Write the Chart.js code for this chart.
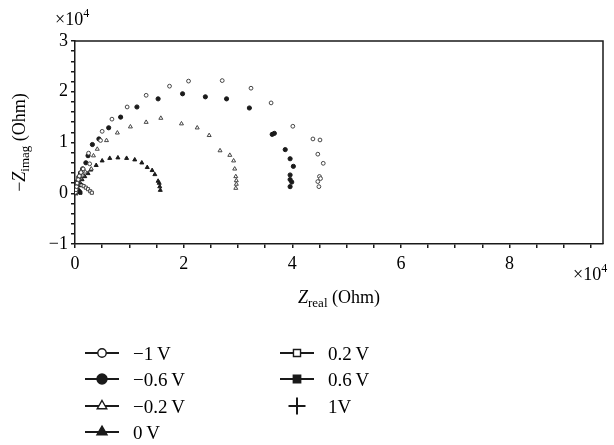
<!DOCTYPE html>
<html lang="en">
  <head>
    <meta charset="UTF-8" />
    <title>Nyquist plot</title>
    <style>
      html, body { margin: 0; padding: 0; background: #fff; }
      .wrap { width: 614px; height: 445px; position: relative; }
    </style>
  </head>
  <body>
    <div class="wrap">
      <canvas id="nyquist"></canvas>
    </div>

    <script src="https://cdn.jsdelivr.net/npm/chart.js"></script>
    <script>
      // Impedance values in units of 1e4 Ohm
      const biasLabels = ["\u22121\u2009V", "\u22120.6\u2009V", "\u22120.2\u2009V", "0\u2009V", "0.2\u2009V", "0.6\u2009V", "1V"];

      const zReal_m1 = [0.01, 0.02, 0.03, 0.04, 0.06, 0.08, 0.11, 0.15, 0.27, 0.25, 0.47, 0.50, 0.68, 0.96, 1.31, 1.74, 2.09, 2.71, 3.24, 3.61, 4.01, 4.38, 4.51, 4.47, 4.57, 4.50, 4.52, 4.47, 4.49];
      const zImag_m1 = [0.02, 0.07, 0.13, 0.20, 0.27, 0.34, 0.41, 0.48, 0.58, 0.79, 1.04, 1.22, 1.46, 1.70, 1.93, 2.11, 2.21, 2.22, 2.07, 1.78, 1.32, 1.07, 1.05, 0.77, 0.59, 0.33, 0.29, 0.23, 0.13];

      const zReal_m06 = [0.01, 0.02, 0.03, 0.05, 0.07, 0.10, 0.14, 0.20, 0.24, 0.32, 0.44, 0.62, 0.84, 1.14, 1.53, 1.98, 2.40, 2.79, 3.21, 3.63, 3.67, 3.87, 3.96, 4.02, 3.96, 3.96, 3.99, 3.96];
      const zImag_m06 = [0.03, 0.09, 0.16, 0.24, 0.32, 0.40, 0.48, 0.60, 0.74, 0.96, 1.07, 1.29, 1.50, 1.70, 1.86, 1.96, 1.90, 1.86, 1.68, 1.16, 1.18, 0.86, 0.68, 0.53, 0.36, 0.27, 0.22, 0.13];

      const zReal_m02 = [0.01, 0.02, 0.03, 0.05, 0.07, 0.10, 0.14, 0.19, 0.30, 0.34, 0.41, 0.58, 0.78, 1.02, 1.31, 1.58, 1.96, 2.25, 2.47, 2.67, 2.85, 2.92, 2.94, 2.96, 2.97, 2.97, 2.96];
      const zImag_m02 = [0.02, 0.06, 0.11, 0.17, 0.23, 0.30, 0.36, 0.42, 0.48, 0.74, 0.87, 1.04, 1.19, 1.31, 1.40, 1.48, 1.37, 1.29, 1.14, 0.84, 0.75, 0.64, 0.48, 0.33, 0.25, 0.18, 0.10];

      const zReal_0 = [0.01, 0.02, 0.04, 0.06, 0.09, 0.13, 0.18, 0.24, 0.29, 0.39, 0.50, 0.64, 0.79, 0.95, 1.10, 1.23, 1.33, 1.42, 1.47, 1.53, 1.55, 1.56, 1.57];
      const zImag_0 = [0.02, 0.06, 0.10, 0.15, 0.21, 0.27, 0.33, 0.39, 0.46, 0.55, 0.64, 0.69, 0.70, 0.69, 0.66, 0.60, 0.51, 0.45, 0.37, 0.24, 0.20, 0.13, 0.06];

      const zReal_p02 = [0.005, 0.01, 0.02, 0.04, 0.06, 0.09, 0.12, 0.16, 0.20, 0.24, 0.28, 0.31];
      const zImag_p02 = [0.02, 0.06, 0.10, 0.14, 0.16, 0.17, 0.16, 0.14, 0.11, 0.08, 0.04, 0.01];

      const zReal_p06 = [0.003, 0.008, 0.015, 0.025, 0.04, 0.055, 0.07, 0.085, 0.10];
      const zImag_p06 = [0.01, 0.03, 0.05, 0.06, 0.065, 0.06, 0.045, 0.03, 0.01];

      const zReal_p1 = [0.002, 0.005, 0.01, 0.018, 0.026, 0.034, 0.04];
      const zImag_p1 = [0.005, 0.012, 0.018, 0.02, 0.017, 0.01, 0.004];

      const xTickLabels = [0, 2, 4, 6, 8];
      const yTickLabels = [-1, 0, 1, 2, 3];

      const SERIF = '"Liberation Serif", "DejaVu Serif", serif';
      const INK = "#1a1a1a";

      function pairs(xs, ys) {
        return xs.map((x, i) => ({ x: x, y: ys[i] }));
      }

      // marker look per bias: style, open/filled, size in plot, size in legend, legend line
      const markers = [
        { style: "circle", open: true, r: 1.9, lr: 4.2, line: true },
        { style: "circle", open: false, r: 2.1, lr: 5, line: true },
        { style: "triangle", open: true, r: 2.3, lr: 5.5, line: true },
        { style: "triangle", open: false, r: 2.3, lr: 5.8, line: true },
        { style: "rect", open: true, r: 2.2, lr: 5, line: true },
        { style: "rect", open: false, r: 2.2, lr: 5.2, line: true },
        { style: "cross", open: false, r: 2.5, lr: 8.5, line: false },
      ];

      const series = [
        pairs(zReal_m1, zImag_m1),
        pairs(zReal_m06, zImag_m06),
        pairs(zReal_m02, zImag_m02),
        pairs(zReal_0, zImag_0),
        pairs(zReal_p02, zImag_p02),
        pairs(zReal_p06, zImag_p06),
        pairs(zReal_p1, zImag_p1),
      ];

      const datasets = series.map((data, i) => ({
        label: biasLabels[i],
        data: data,
        showLine: false,
        pointStyle: markers[i].style,
        pointRadius: markers[i].r,
        pointBorderWidth: 1,
        pointBackgroundColor: markers[i].open ? "#fff" : INK,
        pointBorderColor: markers[i].open ? "#444" : INK,
      }));

      // draws text pieces with their own font and baseline shift
      function drawRuns(ctx, runs, x, y, align) {
        let w = 0;
        runs.forEach((r) => {
          ctx.font = r.font;
          r.w = ctx.measureText(r.t).width;
          w += r.w;
        });
        let cx = align === "center" ? x - w / 2 : align === "right" ? x - w : x;
        runs.forEach((r) => {
          ctx.font = r.font;
          ctx.fillText(r.t, cx, y + (r.dy || 0));
          cx += r.w;
        });
      }

      const decorations = {
        id: "decorations",
        afterDraw(chart) {
          const ctx = chart.ctx;
          const a = chart.chartArea;
          ctx.save();

          // top and right sides of the frame
          ctx.strokeStyle = INK;
          ctx.lineWidth = 1.5;
          ctx.beginPath();
          ctx.moveTo(a.left, a.top);
          ctx.lineTo(a.right, a.top);
          ctx.lineTo(a.right, a.bottom);
          ctx.stroke();

          ctx.fillStyle = "#000";
          ctx.textBaseline = "alphabetic";

          // scale factors
          drawRuns(ctx, [
            { t: "\u00d710", font: "18px " + SERIF },
            { t: "4", font: "12px " + SERIF, dy: -8 },
          ], 55, 25, "left");
          drawRuns(ctx, [
            { t: "\u00d710", font: "18px " + SERIF },
            { t: "4", font: "12px " + SERIF, dy: -8 },
          ], 573, 280, "left");

          // x title
          drawRuns(ctx, [
            { t: "Z", font: "italic 18px " + SERIF },
            { t: "real", font: "13px " + SERIF, dy: 4 },
            { t: " (Ohm)", font: "18px " + SERIF },
          ], (a.left + a.right) / 2, 303, "center");

          // y title
          ctx.save();
          ctx.translate(25, (a.top + a.bottom) / 2);
          ctx.rotate(-Math.PI / 2);
          drawRuns(ctx, [
            { t: "\u2212", font: "18px " + SERIF },
            { t: "Z", font: "italic 18px " + SERIF },
            { t: "imag", font: "13px " + SERIF, dy: 4 },
            { t: " (Ohm)", font: "18px " + SERIF },
          ], 0, 0, "center");
          ctx.restore();

          // legend, two columns of four rows
          const cols = [{ icon: 102, text: 133 }, { icon: 297, text: 328 }];
          const rows = [353, 379, 406, 432];
          chart.data.datasets.forEach((ds, i) => {
            const m = markers[i];
            const col = cols[i < 4 ? 0 : 1];
            const y = rows[i % 4];
            ctx.strokeStyle = INK;
            ctx.lineWidth = 2;
            if (m.line) {
              ctx.beginPath();
              ctx.moveTo(col.icon - 17, y);
              ctx.lineTo(col.icon + 17, y);
              ctx.stroke();
            }
            ctx.fillStyle = m.open ? "#fff" : INK;
            ctx.lineWidth = m.style === "cross" ? 2 : 1.4;
            Chart.helpers.drawPoint(ctx, {
              pointStyle: m.style,
              radius: m.lr,
              borderWidth: ctx.lineWidth,
              rotation: 0,
            }, col.icon, y);
            ctx.fillStyle = "#000";
            ctx.font = "19px " + SERIF;
            ctx.fillText(ds.label, col.text, y + 6.5);
          });

          ctx.restore();
        },
      };

      const tickFont = { family: SERIF, size: 18 };

      new Chart(document.getElementById("nyquist"), {
        type: "scatter",
        data: { datasets: datasets },
        plugins: [decorations],
        options: {
          responsive: true,
          maintainAspectRatio: false,
          animation: false,
          layout: { padding: { top: 41, right: 11, left: 0, bottom: 0 } },
          plugins: {
            legend: { display: false },
            tooltip: { enabled: false },
          },
          scales: {
            x: {
              type: "linear",
              min: 0,
              max: 9.72,
              afterFit: (s) => { s.height = 201; },
              border: { color: INK, width: 1.5 },
              grid: { drawOnChartArea: false, tickLength: 4, color: INK, lineWidth: 1.5 },
              ticks: {
                stepSize: 0.5,
                autoSkip: false,
                includeBounds: false,
                maxRotation: 0,
                padding: 5,
                color: "#000",
                font: tickFont,
                callback: (v) => {
                  const k = xTickLabels.find((t) => Math.abs(t - v) < 1e-6);
                  return k === undefined ? "" : String(k);
                },
              },
            },
            y: {
              type: "linear",
              min: -1,
              max: 3,
              afterFit: (s) => { s.width = 75; },
              border: { color: INK, width: 1.5 },
              grid: { drawOnChartArea: false, tickLength: 4, color: INK, lineWidth: 1.5 },
              ticks: {
                stepSize: 0.2,
                autoSkip: false,
                includeBounds: false,
                padding: 3,
                color: "#000",
                font: tickFont,
                callback: (v) => {
                  const k = yTickLabels.find((t) => Math.abs(t - v) < 1e-6);
                  if (k === undefined) return "";
                  return k < 0 ? "\u2212" + Math.abs(k) : String(k);
                },
              },
            },
          },
        },
      });
    </script>
  </body>
</html>
